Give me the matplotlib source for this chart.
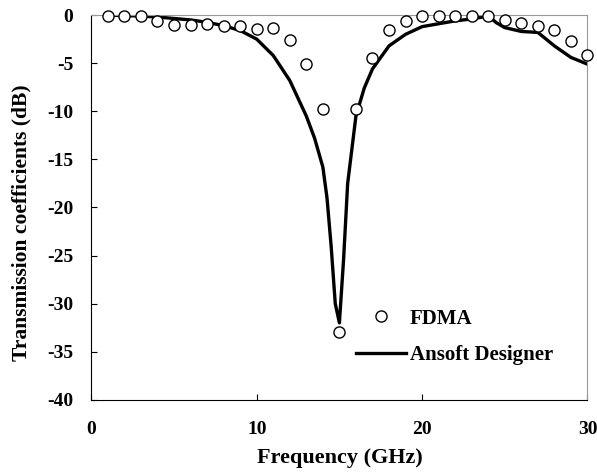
import matplotlib
matplotlib.use("Agg")
import matplotlib.pyplot as plt
import numpy as np

plt.rcParams['font.family'] = ['Liberation Serif', 'DejaVu Serif']
plt.rcParams['font.weight'] = 'bold'
plt.rcParams['axes.unicode_minus'] = False

# FDMA samples (GHz, dB)
fdma_freq = [1, 2, 3, 4, 5, 6, 7, 8, 9, 10, 11, 12, 13, 14, 15,
             16, 17, 18, 19, 20, 21, 22, 23, 24, 25, 26, 27, 28, 29, 30]
fdma_db = [-0.1, -0.1, -0.1, -0.6, -1.0, -1.0, -0.9, -1.1, -1.1, -1.4, -1.3, -2.6, -5.1, -9.8, -33.0,
           -9.8, -4.5, -1.5, -0.6, -0.1, -0.1, -0.1, -0.1, -0.1, -0.5, -0.8, -1.1, -1.5, -2.7, -4.2]

# Ansoft Designer curve
ansoft_freq = [1, 2, 3, 4, 5, 6, 7, 8, 9, 10, 11, 12, 13, 13.5, 14, 14.25, 14.5, 14.75, 15,
               15.25, 15.5, 16, 16.5, 17, 18, 19, 20, 21, 22, 23, 24, 24.5, 25, 26, 27, 28, 29, 30]
ansoft_db = [0.0, -0.05, -0.1, -0.2, -0.35, -0.5, -0.75, -1.1, -1.6, -2.5, -4.2, -6.8, -10.5, -12.8,
             -15.8, -19.0, -24.0, -30.0, -32.0, -25.5, -17.5, -10.5, -7.6, -5.6, -3.2, -2.0, -1.2,
             -0.9, -0.6, -0.4, -0.1, -0.8, -1.3, -1.7, -1.8, -3.2, -4.4, -5.1]

fig = plt.figure(figsize=(5.97, 4.72), dpi=100)
ax = fig.add_axes([0.153, 0.153, 0.831, 0.815])

ax.plot(fdma_freq, fdma_db, 'o', mfc='white', mec='black', ms=8, mew=1.0,
        label='FDMA', zorder=3, clip_on=False)
ax.plot(ansoft_freq, ansoft_db, '-', color='black', lw=2.4, label='Ansoft Designer')

ax.set_xlim(0, 30)
ax.set_ylim(-40, 0)
ax.set_xticks([0, 10, 20, 30])
ax.set_yticks(np.arange(-40, 1, 5))
ax.tick_params(axis='x', direction='in', length=4, labelsize=14, pad=15)
ax.tick_params(axis='y', direction='in', length=4, labelsize=14, pad=13)
for lab in ax.get_xticklabels() + ax.get_yticklabels():
    lab.set_fontweight('bold')

ax.spines['top'].set_color('#999999')
ax.spines['right'].set_color('#999999')
ax.tick_params(top=False, right=False)

ax.set_xlabel('Frequency (GHz)', fontsize=16, fontweight='bold')
ax.xaxis.set_label_coords(0.5, -0.125)
ax.set_ylabel('Transmission coefficients (dB)', fontsize=15.5, fontweight='bold')
ax.yaxis.set_label_coords(-0.12, 0.46)

ax.legend(loc='upper left', bbox_to_anchor=(0.596, 0.346), bbox_transform=fig.transFigure,
          frameon=False, fontsize=15, handlelength=2.4, handletextpad=0.2,
          labelspacing=0.8, borderpad=0, borderaxespad=0)

fig.savefig('out.png', dpi=100)
